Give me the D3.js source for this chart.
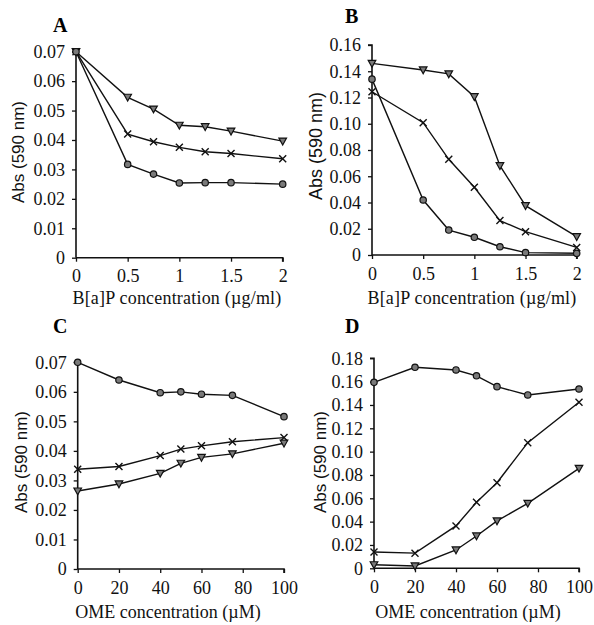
<!DOCTYPE html>
<html><head><meta charset="utf-8">
<script src="https://cdn.jsdelivr.net/npm/d3@7"></script>
<style>body{margin:0;background:#fff}svg{display:block}</style>
</head><body>
<script>
// ---- data ----
const xBaP = [0, 0.5, 0.75, 1, 1.25, 1.5, 2];
const xOME = [0, 20, 40, 50, 60, 75, 100];
const xTicksBaP = [0, 0.5, 1, 1.5, 2];
const xTicksOME = [0, 20, 40, 60, 80, 100];
const yTicksA = [0, 0.01, 0.02, 0.03, 0.04, 0.05, 0.06, 0.07];
const yTicksB = [0, 0.02, 0.04, 0.06, 0.08, 0.10, 0.12, 0.14, 0.16];
const yTicksD = [0, 0.02, 0.04, 0.06, 0.08, 0.10, 0.12, 0.14, 0.16, 0.18];

const A_tri   = [0.070, 0.0545, 0.0505, 0.0450, 0.0445, 0.0430, 0.0396];
const A_cross = [0.070, 0.0420, 0.0394, 0.0375, 0.0360, 0.0354, 0.0336];
const A_circ  = [0.070, 0.0317, 0.0284, 0.0254, 0.0255, 0.0255, 0.0250];

const B_tri   = [0.1460, 0.1410, 0.1380, 0.1206, 0.0680, 0.0376, 0.0140];
const B_cross = [0.1244, 0.1008, 0.0729, 0.0516, 0.0262, 0.0178, 0.0058];
const B_circ  = [0.1340, 0.0419, 0.0190, 0.0135, 0.0063, 0.0018, 0.0013];

const C_circ  = [0.0700, 0.0640, 0.0597, 0.0600, 0.0592, 0.0588, 0.0516];
const C_cross = [0.0338, 0.0347, 0.0384, 0.0406, 0.0417, 0.0431, 0.0445];
const C_tri   = [0.0264, 0.0288, 0.0324, 0.0358, 0.0378, 0.0390, 0.0426];

const D_circ  = [0.1594, 0.1723, 0.1700, 0.1650, 0.1557, 0.1486, 0.1537];
const D_cross = [0.0140, 0.0130, 0.0363, 0.0566, 0.0734, 0.1077, 0.1423];
const D_tri   = [0.0030, 0.0020, 0.0157, 0.0277, 0.0406, 0.0557, 0.0857];

// ---- layout ----
const W = 594, H = 625;
const svg = d3.select("body").append("svg").attr("width", W).attr("height", H);
const SERIF = "'Liberation Serif','Times New Roman',serif";
const SANS = "'Liberation Sans',Arial,sans-serif";

const panels = [
  {title:"A", tx:53, ty:32, x0:76, x1:282.7, yT:51.7, yB:257.7, xd:[0,2], yd:[0,0.07],
   xs:xBaP, xt:xTicksBaP, yt:yTicksA, yfmt:d=> d===0?"0":d3.format(".2f")(d), xfmt:d=>String(d),
   xlabel:"B[a]P concentration (\u00b5g/ml)", xlX:177, xlY:304, ls:0.2, ylx:18, yly:152, ylfs:17,
   series:[["tri",A_tri],["cross",A_cross],["circ",A_circ]]},
  {title:"B", tx:345, ty:23, x0:372, x1:576.7, yT:45, yB:255, xd:[0,2], yd:[0,0.16],
   xs:xBaP, xt:xTicksBaP, yt:yTicksB, yfmt:d=> d===0?"0":d3.format(".2f")(d), xfmt:d=>String(d),
   xlabel:"B[a]P concentration (\u00b5g/ml)", xlX:472, xlY:304, ls:0.2, ylx:316, yly:146, ylfs:18,
   series:[["tri",B_tri],["cross",B_cross],["circ",B_circ]]},
  {title:"C", tx:53, ty:333, x0:77.7, x1:284, yT:362.3, yB:569, xd:[0,100], yd:[0,0.07],
   xs:xOME, xt:xTicksOME, yt:yTicksA, yfmt:d=> d===0?"0":d3.format(".2f")(d), xfmt:d=>String(d),
   xlabel:"OME concentration (\u00b5M)", xlX:168, xlY:618, ls:0, ylx:21, yly:462, ylfs:17,
   series:[["circ",C_circ],["cross",C_cross],["tri",C_tri]]},
  {title:"D", tx:345, ty:333, x0:374, x1:579, yT:358.3, yB:568.3, xd:[0,100], yd:[0,0.18],
   xs:xOME, xt:xTicksOME, yt:yTicksD, yfmt:d=> d===0?"0":d3.format(".2f")(d), xfmt:d=>String(d),
   xlabel:"OME concentration (\u00b5M)", xlX:468, xlY:618, ls:0, ylx:320, yly:462, ylfs:17,
   series:[["circ",D_circ],["cross",D_cross],["tri",D_tri]]}
];

panels.forEach(p => {
  const g = svg.append("g");
  const x = d3.scaleLinear().domain(p.xd).range([p.x0, p.x1]);
  const y = d3.scaleLinear().domain(p.yd).range([p.yB, p.yT]);

  // title
  g.append("text").attr("x", p.tx).attr("y", p.ty)
    .attr("font-family", SERIF).attr("font-weight", "bold").attr("font-size", 20)
    .text(p.title);

  // y axis
  const ya = g.append("g").attr("transform", `translate(${p.x0},0)`)
    .call(d3.axisLeft(y).tickValues(p.yt).tickFormat(p.yfmt).tickSize(4).tickPadding(7));
  // x axis
  const xa = g.append("g").attr("transform", `translate(0,${p.yB})`)
    .call(d3.axisBottom(x).tickValues(p.xt).tickFormat(p.xfmt).tickSize(4).tickPadding(8));
  [ya, xa].forEach(a => {
    a.select(".domain").attr("stroke", "#111").attr("stroke-width", 1.6);
    a.selectAll(".tick line").attr("stroke", "#111").attr("stroke-width", 1.3);
    a.selectAll(".tick text").attr("font-family", SERIF).attr("font-size", 18).attr("fill", "#111");
  });
  ya.select(".domain").attr("d", `M-4,${p.yT}H0V${p.yB}`);
  xa.select(".domain").attr("d", `M${p.x0},0H${p.x1}V4`);

  // axis labels
  g.append("text").attr("x", p.xlX).attr("y", p.xlY)
    .attr("text-anchor", "middle").attr("font-family", SERIF).attr("font-size", 18)
    .attr("letter-spacing", p.ls + "px")
    .attr("fill", "#111").text(p.xlabel);
  g.append("text").attr("transform", `translate(${p.ylx},${p.yly}) rotate(-90)`)
    .attr("text-anchor", "middle").attr("dy", "0.35em")
    .attr("font-family", SANS).attr("font-size", p.ylfs).attr("fill", "#111")
    .text("Abs (590 nm)");

  // series
  const line = d3.line().x((d, i) => x(p.xs[i])).y(d => y(d));
  p.series.forEach(([kind, vals]) => {
    g.append("path").attr("d", line(vals)).attr("fill", "none")
      .attr("stroke", "#111").attr("stroke-width", 1.4);
    const m = g.append("g");
    vals.forEach((v, i) => {
      const cx = x(p.xs[i]), cy = y(v);
      if (kind === "circ") {
        m.append("circle").attr("cx", cx).attr("cy", cy).attr("r", 3.2)
          .attr("fill", "#7a7a7a").attr("stroke", "#111").attr("stroke-width", 1.2);
      } else if (kind === "tri") {
        const s = 3.8;
        m.append("path").attr("d", `M${cx - s},${cy - s * 0.8}L${cx + s},${cy - s * 0.8}L${cx},${cy + s}Z`)
          .attr("fill", "#7a7a7a").attr("stroke", "#111").attr("stroke-width", 1.2);
      } else {
        const s = 3.5;
        m.append("path").attr("d", `M${cx - s},${cy - s}L${cx + s},${cy + s}M${cx - s},${cy + s}L${cx + s},${cy - s}`)
          .attr("stroke", "#111").attr("stroke-width", 1.4);
      }
    });
  });
});
</script>
</body></html>
